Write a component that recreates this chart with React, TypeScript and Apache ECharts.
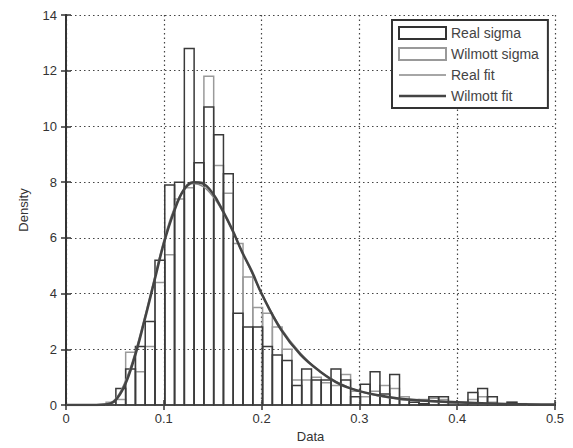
import React, { useEffect, useRef } from "react";
import * as echarts from "echarts";

// Histogram bins (left edges) and width
const binStart = 0.041;
const binWidth = 0.01;
const realSigma = [
  0, 0.6, 1.3, 2.1, 3.0, 5.2, 7.9, 8.0, 12.8, 8.7, 10.7, 9.7, 8.3, 3.3, 2.8, 2.8, 2.1, 1.8, 1.6, 0.7,
  1.3, 0.9, 0.9, 1.3, 0.9, 0.3, 0.75, 1.2, 0.4, 1.1, 0.2, 0.1, 0.05, 0.3, 0.3, 0.1, 0, 0.45, 0.6, 0.3,
  0, 0.1, 0,
];
const wilmottSigma = [
  0.1, 0.2, 1.9, 1.2, 2.1, 4.4, 5.4, 7.4, 7.8, 8.0, 11.8, 8.6, 7.6, 5.8, 4.6, 3.5, 3.3, 2.8, 2.0, 0.9,
  0.9, 1.0, 0.8, 0.7, 1.1, 0.5, 0.3, 0.5, 0.7, 0.6, 0.3, 0.2, 0.2, 0.25, 0.2, 0.05, 0.1, 0.2, 0.3, 0.1,
  0, 0.1, 0.05,
];

// Fitted density curves
const fitX = [
  0, 0.02, 0.04, 0.05, 0.06, 0.07, 0.08, 0.09, 0.1, 0.11, 0.12, 0.13, 0.14, 0.15, 0.16, 0.17, 0.18,
  0.19, 0.2, 0.22, 0.24, 0.26, 0.28, 0.3, 0.32, 0.35, 0.4, 0.45, 0.5,
];
const realFit = [
  0, 0, 0.03, 0.2, 0.8, 1.8, 3.1, 4.5, 5.9, 7.0, 7.7, 7.95, 7.85, 7.5, 6.95, 6.25, 5.5, 4.75, 4.0,
  2.75, 1.85, 1.2, 0.78, 0.5, 0.33, 0.18, 0.08, 0.03, 0.01,
];
const wilmottFit = [
  0, 0, 0.02, 0.15, 0.7, 1.7, 3.0, 4.4, 5.8, 6.9, 7.7, 8.0, 7.95, 7.6, 7.0, 6.3, 5.5, 4.8, 4.0, 2.7,
  1.8, 1.2, 0.75, 0.5, 0.35, 0.2, 0.1, 0.04, 0.02,
];

const FONT = "Liberation Sans, Arial, sans-serif";
const TXT = "#333";

function histData(vals: number[]) {
  return vals.map((h, i) => {
    const x0 = binStart + i * binWidth;
    return [x0, x0 + binWidth, h];
  });
}

function histSeries(name: string, vals: number[], color: string, width: number) {
  return {
    type: "custom",
    name,
    data: histData(vals),
    encode: { x: [0, 1], y: 2 },
    itemStyle: { color: "#fff", borderColor: color, borderWidth: width },
    renderItem: (params: any, api: any) => {
      const x0 = api.value(0);
      const x1 = api.value(1);
      const h = api.value(2);
      const p0 = api.coord([x0, h]);
      const p1 = api.coord([x1, 0]);
      return {
        type: "rect",
        shape: { x: p0[0], y: p0[1], width: p1[0] - p0[0], height: p1[1] - p0[1] },
        style: { fill: "none", stroke: color, lineWidth: width },
      };
    },
  };
}

export default function App() {
  const ref = useRef<HTMLDivElement>(null);
  useEffect(() => {
    document.body.style.margin = "0";
    const chart = echarts.init(ref.current!, null, { renderer: "svg" });
    const axisLine = { show: true, lineStyle: { color: "#333", width: 2 } };
    const tick = { show: true, inside: true, length: 5, lineStyle: { color: "#333", width: 1.5 } };
    const split = { show: true, lineStyle: { type: [1.5, 3], color: "#444", width: 1.2 } };
    chart.setOption({
      animation: false,
      backgroundColor: "#fff",
      textStyle: { fontFamily: FONT },
      grid: { left: 66, right: 18, top: 15, bottom: 42, show: false },
      xAxis: [
        {
          type: "value",
          min: 0,
          max: 0.5,
          interval: 0.1,
          position: "bottom",
          axisLine,
          axisTick: tick,
          splitLine: split,
          axisLabel: { fontSize: 13, color: TXT, margin: 7, fontFamily: FONT },
          name: "Data",
          nameLocation: "middle",
          nameGap: 23,
          nameTextStyle: { fontSize: 13, color: TXT, fontFamily: FONT },
        },
        {
          type: "value",
          min: 0,
          max: 0.5,
          interval: 0.1,
          position: "top",
          axisLine,
          axisTick: tick,
          splitLine: { show: false },
          axisLabel: { show: false },
        },
      ],
      yAxis: [
        {
          type: "value",
          min: 0,
          max: 14,
          interval: 2,
          position: "left",
          axisLine,
          axisTick: tick,
          splitLine: split,
          axisLabel: { fontSize: 13, color: TXT, margin: 9, fontFamily: FONT },
          name: "Density",
          nameLocation: "middle",
          nameGap: 36,
          nameTextStyle: { fontSize: 13, color: TXT, fontFamily: FONT },
        },
        {
          type: "value",
          min: 0,
          max: 14,
          interval: 2,
          position: "right",
          axisLine,
          axisTick: tick,
          splitLine: { show: false },
          axisLabel: { show: false },
        },
      ],
      legend: {
        orient: "vertical",
        left: 392,
        top: 20,
        padding: [6, 9, 5, 6],
        itemWidth: 47,
        itemHeight: 12,
        itemGap: 7,
        borderColor: "#333",
        borderWidth: 2,
        backgroundColor: "#fff",
        textStyle: { fontSize: 14, color: "#444", fontFamily: FONT },
        data: [
          { name: "Real sigma", icon: "rect", itemStyle: { color: "#fff", borderColor: "#333", borderWidth: 2 } },
          { name: "Wilmott sigma", icon: "rect", itemStyle: { color: "#fff", borderColor: "#999", borderWidth: 2 } },
          {
            name: "Real fit",
            icon: "path://M0,0 L47,0 L47,1.5 L0,1.5 Z",
            itemStyle: { color: "#888", borderWidth: 0 },
          },
          {
            name: "Wilmott fit",
            icon: "path://M0,0 L47,0 L47,2.5 L0,2.5 Z",
            itemStyle: { color: "#444", borderWidth: 0 },
          },
        ],
      },
      series: [
        histSeries("Wilmott sigma", wilmottSigma, "#9a9a9a", 1.5),
        histSeries("Real sigma", realSigma, "#3a3a3a", 1.5),
        {
          type: "line",
          name: "Real fit",
          data: fitX.map((x, i) => [x, realFit[i]]),
          smooth: 0.4,
          symbol: "none",
          lineStyle: { color: "#888", width: 1.5 },
          itemStyle: { color: "#888" },
        },
        {
          type: "line",
          name: "Wilmott fit",
          data: fitX.map((x, i) => [x, wilmottFit[i]]),
          smooth: 0.4,
          symbol: "none",
          lineStyle: { color: "#444", width: 2.5 },
          itemStyle: { color: "#444" },
        },
      ],
    });
    return () => chart.dispose();
  }, []);
  return <div ref={ref} style={{ width: 573, height: 448 }} />;
}
